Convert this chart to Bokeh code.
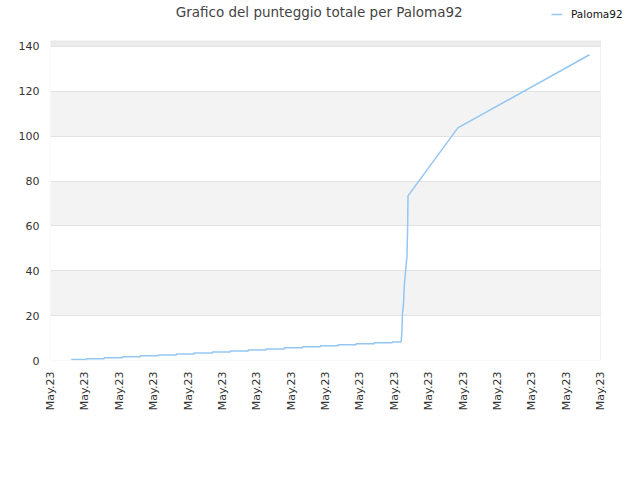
import math
from bokeh.plotting import figure
from bokeh.models import FixedTicker, Label, Legend, LegendItem, BoxAnnotation, Range1d
from bokeh.embed import file_html
from bokeh.resources import INLINE

# ---- data ----
title_text = "Grafico del punteggio totale per Paloma92"
series_name = "Paloma92"
x_ticks = list(range(17))
x_tick_labels = ["May.23"] * 17
y_ticks = [0, 20, 40, 60, 80, 100, 120, 140]

# staircase part (score changes in small steps)
stair_x = [0.60, 1.04, 1.56, 2.09, 2.61, 3.13, 3.66, 4.18, 4.71, 5.23,
           5.75, 6.27, 6.80, 7.33, 7.85, 8.37, 8.89, 9.42, 9.94, 10.20]
stair_y = [0.5, 0.8, 1.25, 1.69, 2.14, 2.45, 2.89, 3.34, 3.78, 4.23,
           4.67, 5.12, 5.70, 6.14, 6.59, 7.04, 7.48, 7.93, 8.24, 8.24]
# steep rise and later growth
rise_x = [10.20, 10.22, 10.24, 10.27, 10.29, 10.32, 10.35, 10.37, 10.39, 10.40, 11.85, 15.68]
rise_y = [8.24, 12.1, 21.0, 25.5, 32.9, 38.1, 43.3, 46.2, 59.6, 73.4, 103.7, 136.3]

# axis extents of the drawn plot area
X_MIN, X_MAX = 0, 16
Y_MIN, Y_TOP = 0, 142.5

LINE_COLOR = "#94c6f3"
FONT = "DejaVu Sans"

# frame extends to canvas top/right so title and legend are inside it
p = figure(width=640, height=480, output_backend="svg", toolbar_location=None,
           x_range=Range1d(0, 590 / 34.375), y_range=Range1d(0, 160.5),
           min_border_left=50, min_border_right=0, min_border_top=0, min_border_bottom=120,
           background_fill_color="white", border_fill_color="white",
           outline_line_color=None)

# alternating bands inside the plot area
for i in range(1, len(y_ticks) - 1, 2):
    p.add_layout(BoxAnnotation(left=X_MIN, right=X_MAX, bottom=y_ticks[i], top=y_ticks[i + 1],
                               fill_color="#f3f3f3", fill_alpha=1, line_alpha=0, level="image"))
p.add_layout(BoxAnnotation(left=X_MIN, right=X_MAX, bottom=y_ticks[-1], top=Y_TOP,
                           fill_color="#ebebeb", fill_alpha=1, line_alpha=0, level="image"))

p.xgrid.visible = False
p.ygrid.ticker = FixedTicker(ticks=y_ticks)
p.ygrid.grid_line_color = "#e2e2e2"
p.ygrid.band_fill_alpha = 0
p.ygrid.cross_bounds = (X_MIN, X_MAX)

for ax in (p.xaxis[0], p.yaxis[0]):
    ax.axis_line_color = None
    ax.major_tick_line_color = None
    ax.minor_tick_line_color = None
    ax.major_tick_out = 0
    ax.major_tick_in = 0
    ax.major_label_text_font_size = "11px"
    ax.major_label_text_color = "#333333"
    ax.major_label_text_font = FONT
    ax.major_label_standoff = 11

p.xaxis.ticker = FixedTicker(ticks=x_ticks)
p.xaxis.major_label_overrides = {t: lab for t, lab in zip(x_ticks, x_tick_labels)}
p.xaxis.major_label_orientation = math.pi / 2
p.yaxis.ticker = FixedTicker(ticks=y_ticks)

# plot-area border
p.add_layout(BoxAnnotation(left=X_MIN, right=X_MAX, bottom=Y_MIN, top=Y_TOP,
                           fill_alpha=0, line_color="#d4d4d4", line_width=1))

p.step(stair_x, stair_y, mode="after", line_color=LINE_COLOR, line_width=1.5)
r = p.line(rise_x, rise_y, line_color=LINE_COLOR, line_width=1.5)

legend = Legend(items=[LegendItem(label=series_name, renderers=[r])],
                location=(501, 340), orientation="vertical",
                padding=0, margin=0, spacing=0,
                glyph_width=11, glyph_height=12, label_height=12, label_standoff=9,
                label_text_font_size="10.5px", label_text_font=FONT, label_text_color="#111111",
                border_line_alpha=0, background_fill_alpha=0)
p.add_layout(legend)

p.add_layout(Label(x=268.7, y=349, x_units="screen", y_units="screen",
                   text=title_text, text_align="center", text_baseline="alphabetic",
                   text_font_size="13.5px", text_color="#444444", text_font=FONT))

open("out.html", "w").write(file_html(p, INLINE))
